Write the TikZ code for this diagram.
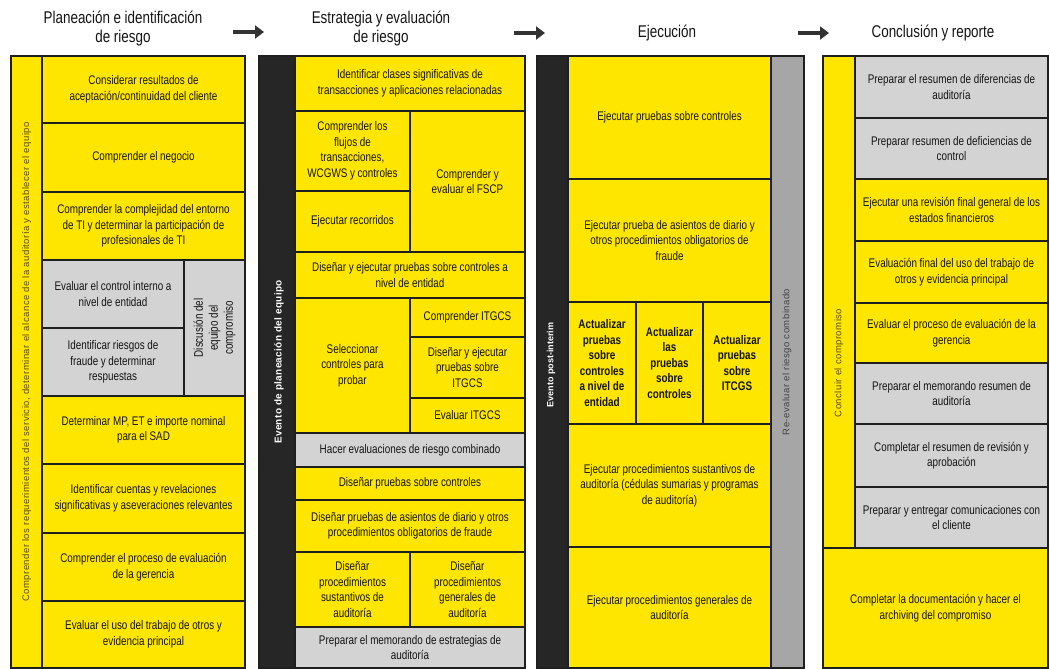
\documentclass[tikz,border=0pt]{standalone}
\usepackage{fontspec}
\setmainfont{Liberation Sans}[FakeStretch=0.79, WordSpace=0.95]
\newfontfamily\plainsans{Liberation Sans}
\usetikzlibrary{arrows.meta}

\definecolor{eyyellow}{HTML}{FFE600}
\definecolor{softgray}{HTML}{D3D3D3}
\definecolor{midgray}{HTML}{A6A6A6}
\definecolor{darkband}{HTML}{262626}
\definecolor{edge}{HTML}{1F1F1F}
\definecolor{ink}{HTML}{141414}
\definecolor{olivetxt}{HTML}{5C4E00}
\definecolor{arrowc}{HTML}{333333}

\tikzset{
  cell/.style={draw=edge, line width=1.2pt, inner sep=0pt, outer sep=0pt,
    align=flush center, text=ink, font=\fontsize{12.5}{15.5}\selectfont},
  boldcell/.style={cell, font=\bfseries\fontsize{12.5}{15.5}\selectfont},
  heading/.style={align=center, text=ink, font=\fontsize{17}{19}\selectfont},
  flow/.style={line width=4.5pt, color=arrowc, -{Triangle[length=9pt,width=13pt]}},
  bandlabel/.style={rotate=90, inner sep=0pt},
}

% \cellbox[style]{fill}{name}{x1}{y1}{x2}{y2}{text}
\newcommand\cellbox[8][cell]{%
  \pgfmathsetmacro\cw{#6-#4}%
  \pgfmathsetmacro\ch{#7-#5}%
  \pgfmathsetmacro\tw{#6-#4-2}%
  \node[#1, fill=#2, minimum width=\cw pt, minimum height=\ch pt, text width=\tw pt]
    (#3) at ({(#4+#6)/2},{(#5+#7)/2}) {#8};}

\begin{document}
\begin{tikzpicture}[x=1pt, y=-1pt]
\useasboundingbox (0,0) rectangle (1050,669);

% ---------- phase headings and arrows ----------
\node[heading] (h1) at (123,29) {Planeación e identificación\\de riesgo};
\node[heading] (h2) at (381,29) {Estrategia y evaluación\\de riesgo};
\node[heading] (h3) at (667,33) {Ejecución};
\node[heading] (h4) at (933,33) {Conclusión y reporte};

\coordinate (a1s) at (233,32); \coordinate (a1e) at (264,32);
\coordinate (a2s) at (514,33); \coordinate (a2e) at (545,33);
\coordinate (a3s) at (798,33); \coordinate (a3e) at (829,33);
\draw[flow] (a1s) -- (a1e);
\draw[flow] (a2s) -- (a2e);
\draw[flow] (a3s) -- (a3e);

% ---------- column 1: planning ----------
\cellbox{eyyellow}{p0}{11}{56}{42}{668}{}
\cellbox{eyyellow}{p1}{42}{56}{245}{123}{Considerar resultados de\\aceptación/continuidad del cliente}
\cellbox{eyyellow}{p2}{42}{123}{245}{192}{Comprender el negocio}
\cellbox{eyyellow}{p3}{42}{192}{245}{260}{Comprender la complejidad del entorno\\de TI y determinar la participación de\\profesionales de TI}
\cellbox{softgray}{p4}{42}{260}{184}{328}{Evaluar el control interno a\\nivel de entidad}
\cellbox{softgray}{p5}{42}{328}{184}{396}{Identificar riesgos de\\fraude y determinar\\respuestas}
\cellbox{softgray}{p6}{184}{260}{245}{396}{}
\cellbox{eyyellow}{p7}{42}{396}{245}{464}{Determinar MP, ET e importe nominal\\para el SAD}
\cellbox{eyyellow}{p8}{42}{464}{245}{533}{Identificar cuentas y revelaciones\\significativas y aseveraciones relevantes}
\cellbox{eyyellow}{p9}{42}{533}{245}{601}{Comprender el proceso de evaluación\\de la gerencia}
\cellbox{eyyellow}{p10}{42}{601}{245}{668}{Evaluar el uso del trabajo de otros y\\evidencia principal}

\node[bandlabel, text=olivetxt, font=\plainsans\fontsize{9.5}{10}\selectfont\addfontfeature{LetterSpace=5}]
  (p0l) at (p0.center) {Comprender los requerimientos del servicio, determinar el alcance de la auditoría y establecer el equipo};
\node[bandlabel, align=center, text=ink, font=\fontsize{12.5}{15}\selectfont]
  (p6l) at (p6.center) {Discusión del\\equipo del\\compromiso};

% ---------- column 2: strategy ----------
\cellbox{darkband}{s0}{259}{56}{295}{668}{}
\cellbox{eyyellow}{s1}{295}{56}{525}{111}{Identificar clases significativas de\\transacciones y aplicaciones relacionadas}
\cellbox{eyyellow}{s2}{295}{111}{410}{191}{Comprender los\\flujos de\\transacciones,\\WCGWS y controles}
\cellbox{eyyellow}{s3}{295}{191}{410}{252}{Ejecutar recorridos}
\cellbox{eyyellow}{s4}{410}{111}{525}{252}{Comprender y\\evaluar el FSCP}
\cellbox{eyyellow}{s5}{295}{252}{525}{298}{Diseñar y ejecutar pruebas sobre controles a\\nivel de entidad}
\cellbox{eyyellow}{s6}{295}{298}{410}{433}{Seleccionar\\controles para\\probar}
\cellbox{eyyellow}{s7}{410}{298}{525}{337}{Comprender ITGCS}
\cellbox{eyyellow}{s8}{410}{337}{525}{398}{Diseñar y ejecutar\\pruebas sobre\\ITGCS}
\cellbox{eyyellow}{s9}{410}{398}{525}{433}{Evaluar ITGCS}
\cellbox{softgray}{s10}{295}{433}{525}{467}{Hacer evaluaciones de riesgo combinado}
\cellbox{eyyellow}{s11}{295}{467}{525}{500}{Diseñar pruebas sobre controles}
\cellbox{eyyellow}{s12}{295}{500}{525}{552}{Diseñar pruebas de asientos de diario y otros\\procedimientos obligatorios de fraude}
\cellbox{eyyellow}{s13}{295}{552}{410}{627}{Diseñar\\procedimientos\\sustantivos de\\auditoría}
\cellbox{eyyellow}{s14}{410}{552}{525}{627}{Diseñar\\procedimientos\\generales de\\auditoría}
\cellbox{softgray}{s15}{295}{627}{525}{668}{Preparar el memorando de estrategias de\\auditoría}

\node[bandlabel, text=white, font=\plainsans\bfseries\fontsize{10}{12}\selectfont\addfontfeature{LetterSpace=3}]
  (s0l) at (279,362) {Evento de planeación del equipo};

% ---------- column 3: execution ----------
\cellbox{darkband}{e0}{537}{56}{568}{668}{}
\cellbox{midgray}{e9}{771}{56}{804}{668}{}
\cellbox{eyyellow}{e1}{568}{56}{771}{179}{Ejecutar pruebas sobre controles}
\cellbox{eyyellow}{e2}{568}{179}{771}{302}{Ejecutar prueba de asientos de diario y\\otros procedimientos obligatorios de\\fraude}
\cellbox[boldcell]{eyyellow}{e3}{568}{302}{636}{424}{Actualizar\\pruebas\\sobre\\controles\\a nivel de\\entidad}
\cellbox[boldcell]{eyyellow}{e4}{636}{302}{703}{424}{Actualizar\\las\\pruebas\\sobre\\controles}
\cellbox[boldcell]{eyyellow}{e5}{703}{302}{771}{424}{Actualizar\\pruebas\\sobre\\ITCGS}
\cellbox{eyyellow}{e6}{568}{424}{771}{547}{Ejecutar procedimientos sustantivos de\\auditoría (cédulas sumarias y programas\\de auditoría)}
\cellbox{eyyellow}{e7}{568}{547}{771}{668}{Ejecutar procedimientos generales de\\auditoría}

\node[bandlabel, text=white, font=\plainsans\bfseries\fontsize{9}{11}\selectfont]
  (e0l) at (551,365) {Evento post-interim};
\node[bandlabel, text=ink!80, font=\plainsans\fontsize{9.5}{11}\selectfont\addfontfeature{LetterSpace=5}]
  (e9l) at (787,362) {Re-evaluar el riesgo combinado};

% ---------- column 4: conclusion ----------
\cellbox{eyyellow}{c0}{823}{56}{855}{548}{}
\cellbox{softgray}{c1}{855}{56}{1048}{118}{Preparar el resumen de diferencias de\\auditoría}
\cellbox{softgray}{c2}{855}{118}{1048}{179}{Preparar resumen de deficiencias de\\control}
\cellbox{eyyellow}{c3}{855}{179}{1048}{241}{Ejecutar una revisión final general de los\\estados financieros}
\cellbox{eyyellow}{c4}{855}{241}{1048}{303}{Evaluación final del uso del trabajo de\\otros y evidencia principal}
\cellbox{eyyellow}{c5}{855}{303}{1048}{363}{Evaluar el proceso de evaluación de la\\gerencia}
\cellbox{softgray}{c6}{855}{363}{1048}{424}{Preparar el memorando resumen de\\auditoría}
\cellbox{softgray}{c7}{855}{424}{1048}{487}{Completar el resumen de revisión y\\aprobación}
\cellbox{softgray}{c8}{855}{487}{1048}{548}{Preparar y entregar comunicaciones con\\el cliente}
\cellbox{eyyellow}{c9}{823}{548}{1048}{668}{Completar la documentación y hacer el\\archiving del compromiso}

\node[bandlabel, text=olivetxt, font=\plainsans\fontsize{9.5}{10}\selectfont\addfontfeature{LetterSpace=5}]
  (c0l) at (839,363) {Concluir el compromiso};
\end{tikzpicture}
\end{document}
